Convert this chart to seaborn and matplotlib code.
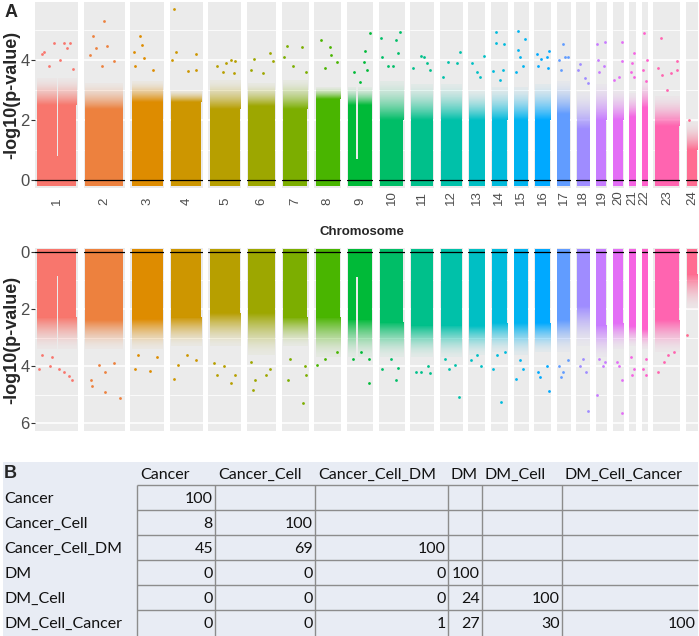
import numpy as np
import pandas as pd
import matplotlib
matplotlib.use("Agg")
import matplotlib.pyplot as plt
import seaborn as sns
from matplotlib.colors import to_rgb

# ---------------- data ----------------
chromosomes = [str(i) for i in range(1, 25)]
# relative span of each chromosome panel
chrom_span = [43, 41, 34, 33, 33, 29, 27, 27, 26, 26, 24, 23, 17, 17, 15, 17, 14, 14, 11, 11, 7, 6, 27, 12]

# upper panel: height reached by the solid SNP mass and by the speckled fringe (-log10 p)
top_dense = [2.5, 2.35, 2.6, 2.6, 2.35, 2.45, 2.35, 2.7, 2.5, 2.0, 2.0, 2.0, 2.0, 2.0, 2.0, 2.0, 2.2, 1.7, 2.0, 2.0, 2.1, 2.4, 1.8, 1.0]
top_fringe = [3.4, 3.2, 3.3, 3.0, 3.3, 3.2, 3.3, 3.1, 3.1, 3.3, 3.2, 3.2, 3.0, 3.1, 3.1, 3.2, 3.3, 2.9, 3.2, 3.0, 2.9, 3.3, 2.8, 1.9]
# upper panel: isolated top SNPs (relative position in chromosome, -log10 p)
top_hits = [
    [(.12, 4.2), (.19, 4.27), (.30, 3.8), (.43, 4.57), (.60, 4.0), (.70, 4.57), (.78, 4.4), (.85, 4.57), (.93, 3.7)],
    [(.11, 4.17), (.19, 4.8), (.28, 4.4), (.45, 3.8), (.51, 5.3), (.57, 4.47), (.77, 3.97)],
    [(.06, 4.27), (.11, 3.8), (.26, 4.8), (.33, 4.48), (.41, 4.06), (.70, 3.67)],
    [(.03, 4.0), (.08, 5.69), (.16, 4.27), (.57, 3.63), (.81, 4.2), (.83, 3.67)],
    [(.23, 3.8), (.43, 3.6), (.54, 3.9), (.69, 4.0), (.79, 3.55), (.82, 3.95)],
    [(.11, 3.67), (.23, 4.02), (.57, 3.55), (.82, 4.24), (.94, 3.97)],
    [(.06, 4.1), (.16, 4.45), (.40, 3.8), (.76, 4.42), (.94, 3.6)],
    [(.24, 4.67), (.39, 3.73), (.57, 4.42), (.63, 4.17), (.88, 3.92)],
    [(.24, 3.6), (.50, 3.27), (.68, 3.93), (.73, 4.3), (.82, 3.67), (.93, 4.9)],
    [(.07, 4.72), (.09, 4.1), (.36, 3.78), (.56, 3.8), (.69, 4.67), (.76, 4.22), (.85, 4.94)],
    [(.08, 3.72), (.44, 4.13), (.58, 4.1), (.72, 3.91), (.86, 3.67)],
    [(.11, 3.44), (.36, 3.94), (.76, 3.89), (.90, 4.26)],
    [(.20, 3.89), (.50, 3.61), (.70, 3.44), (.94, 4.14)],
    [(.10, 3.63), (.26, 4.94), (.26, 4.56), (.56, 3.33), (.76, 3.67), (.82, 4.53)],
    [(.16, 3.61), (.27, 4.97), (.27, 4.33), (.45, 4.09), (.61, 3.78), (.77, 4.69)],
    [(.12, 4.19), (.18, 3.78), (.41, 4.02), (.76, 4.11), (.86, 3.72), (.90, 4.31)],
    [(.09, 3.98), (.28, 3.67), (.44, 4.53), (.63, 4.11), (.86, 4.09)],
    [(.10, 3.67), (.21, 3.86), (.62, 3.39), (.86, 3.22)],
    [(.06, 4.52), (.12, 4.0), (.22, 3.61), (.75, 3.78), (.84, 4.61)],
    [(.09, 3.33), (.55, 3.44), (.85, 3.97), (.91, 4.58)],
    [(.18, 3.61), (.41, 3.89), (.64, 4.24), (.64, 3.44)],
    [(.26, 3.67), (.42, 4.89), (.68, 3.28), (.89, 4.0)],
    [(.12, 3.72), (.27, 4.74), (.30, 3.5), (.49, 3.0), (.65, 3.56), (.91, 3.97), (.91, 3.67)],
    [(.20, 2.0)],
]

# lower (mirrored) panel
bot_dense = [2.3, 2.4, 2.35, 2.3, 2.15, 2.15, 2.3, 2.3, 2.4, 2.5, 2.6, 2.6, 2.6, 2.5, 2.5, 2.5, 2.4, 1.9, 2.6, 2.5, 2.6, 2.7, 2.4, 0.8]
bot_fringe = [3.4, 3.4, 3.4, 3.3, 3.3, 3.6, 3.3, 3.7, 3.7, 3.7, 3.7, 3.7, 3.6, 3.5, 3.6, 3.5, 3.5, 3.3, 3.7, 3.4, 3.3, 3.4, 3.5, 2.0]
bot_hits = [
    [(.05, 4.1), (.12, 3.6), (.33, 4.0), (.39, 3.7), (.57, 4.12), (.70, 4.2), (.81, 4.35), (.89, 4.5)],
    [(.14, 4.5), (.18, 4.7), (.37, 3.95), (.53, 4.2), (.53, 4.9), (.77, 3.9), (.93, 5.13)],
    [(.11, 4.1), (.21, 3.6), (.60, 4.17), (.80, 3.7)],
    [(.09, 4.45), (.21, 3.95), (.52, 3.6), (.83, 3.8)],
    [(.13, 3.9), (.23, 4.3), (.48, 4.0), (.69, 4.6), (.82, 4.3)],
    [(.11, 3.85), (.19, 4.85), (.26, 4.5), (.68, 4.3), (.82, 4.1)],
    [(.22, 4.5), (.28, 3.75), (.82, 5.29), (.88, 4.0), (.94, 4.3)],
    [(.08, 3.95), (.39, 3.75), (.88, 3.5)],
    [(.22, 3.75), (.56, 3.5), (.87, 4.59), (.90, 3.75)],
    [(.09, 4.1), (.49, 3.75), (.69, 4.48), (.76, 4.07)],
    [(.23, 4.2), (.44, 4.2), (.79, 4.0), (.86, 4.25)],
    [(.19, 3.75), (.40, 4.1), (.69, 3.95), (.87, 5.08)],
    [(.10, 3.8), (.50, 3.6), (.80, 4.0)],
    [(.10, 4.1), (.36, 3.6), (.60, 5.25), (.86, 3.5)],
    [(.16, 4.45), (.39, 3.8), (.61, 4.1)],
    [(.18, 4.2), (.31, 4.4), (.76, 4.0), (.90, 4.87)],
    [(.09, 4.0), (.28, 4.4), (.44, 4.2), (.86, 3.8)],
    [(.26, 4.0), (.50, 3.75), (.74, 4.2), (.86, 5.57)],
    [(.06, 5.0), (.22, 3.75), (.69, 4.0), (.84, 3.85)],
    [(.39, 3.85), (.64, 4.0), (.85, 5.65), (.94, 4.5)],
    [(.18, 3.7), (.41, 4.3), (.73, 4.1)],
    [(.26, 4.1), (.68, 4.3), (.79, 3.75)],
    [(.12, 4.2), (.37, 3.85), (.55, 3.6), (.79, 3.5)],
    [(.06, 2.9)],
]

# centromere gaps visible in the SNP mass
gap_chrom = ["1", "9"]
gap_pos = [0.53, 0.38]
gap_from_top = [0.8, 0.7]
gap_from_bot = [0.85, 0.87]

# overlap table (panel B)
table_cols = ["Cancer", "Cancer_Cell", "Cancer_Cell_DM", "DM", "DM_Cell", "DM_Cell_Cancer"]
table_rows = ["Cancer", "Cancer_Cell", "Cancer_Cell_DM", "DM", "DM_Cell", "DM_Cell_Cancer"]
overlap = [
    [100],
    [8, 100],
    [45, 69, 100],
    [0, 0, 0, 100],
    [0, 0, 0, 24, 100],
    [0, 0, 1, 27, 30, 100],
]

# ---------------- style ----------------
sns.set_theme(style="darkgrid", rc={"axes.facecolor": "#EBEBEB", "grid.color": "white"})
plt.rcParams["font.family"] = ["Liberation Sans", "DejaVu Sans"]


def hue_colour(h, c=100.0, l=65.0):
    """ggplot2-style HCL hue colour."""
    hr = np.radians(h)
    U, V = c * np.cos(hr), c * np.sin(hr)
    Y = ((l + 16) / 116) ** 3
    xn, yn, zn = 0.95047, 1.0, 1.08883
    den = xn + 15 * yn + 3 * zn
    un, vn = 4 * xn / den, 9 * yn / den
    u = U / (13 * l) + un
    v = V / (13 * l) + vn
    X = 9.0 * Y * u / (4 * v)
    Z = -X / 3 - 5 * Y + 3 * Y / v
    rgb = np.array([3.240479 * X - 1.53715 * Y - 0.498535 * Z,
                    -0.969256 * X + 1.875992 * Y + 0.041556 * Z,
                    0.055648 * X - 0.204043 * Y + 1.057311 * Z])
    rgb = np.where(rgb <= 0.0031308, 12.92 * rgb, 1.055 * np.abs(rgb) ** (1 / 2.4) - 0.055)
    return tuple(np.clip(rgb, 0, 1))


n = len(chromosomes)
palette = [hue_colour(h) for h in np.linspace(15, 375, n + 1)[:-1]]

W, H = 699, 636
fig = plt.figure(figsize=(W / 100, H / 100), dpi=100)

left_px, right_px, gap_px = 35, 698, 5.6
avail = right_px - left_px - gap_px * (n - 1)
widths = np.array(chrom_span, float) / sum(chrom_span) * avail
lefts = left_px + np.concatenate([[0], np.cumsum(widths[:-1] + gap_px)])

rows = [
    dict(top=2, bottom=188, ylim=(-0.27, 5.93), base=-0.2, dense=top_dense, fringe=top_fringe,
         hits=top_hits, gap_from=gap_from_top, major=[0, 2, 4], minor=[1, 3, 5]),
    dict(top=248, bottom=431, ylim=(6.28, -0.14), base=-0.1, dense=bot_dense, fringe=bot_fringe,
         hits=bot_hits, gap_from=gap_from_bot, major=[0, 2, 4, 6], minor=[1, 3, 5]),
]

fade = (1 - np.linspace(0, 1, 60)) ** 1.6 * 0.95 + 0.04

for r, row in enumerate(rows):
    for i, chrom in enumerate(chromosomes):
        ax = fig.add_axes([lefts[i] / W, 1 - row["bottom"] / H, widths[i] / W,
                           (row["bottom"] - row["top"]) / H])
        col = palette[i]
        d, f = row["dense"][i], row["fringe"][i]
        ax.bar(0.5, d - row["base"], bottom=row["base"], width=1.0, color=col, linewidth=0, zorder=1.2)
        grad = np.zeros((60, 1, 4))
        grad[..., :3] = to_rgb(col)
        grad[:, 0, 3] = fade
        ax.imshow(grad, extent=(0, 1, d, f), origin="lower", aspect="auto",
                  interpolation="bilinear", zorder=1.3)
        if chrom in gap_chrom:
            k = gap_chrom.index(chrom)
            gw = 1.6 / widths[i]
            ax.bar(gap_pos[k], f - row["gap_from"][k], bottom=row["gap_from"][k], width=gw,
                   color="#EBEBEB", linewidth=0, zorder=1.4)
        hits = pd.DataFrame(row["hits"][i], columns=["pos", "logp"])
        sns.scatterplot(data=hits, x="pos", y="logp", color=col, s=4, linewidth=0,
                        ax=ax, zorder=4, legend=False)
        ax.axhline(0, color="black", lw=0.9, zorder=3)
        ax.set_xlim(-0.05, 1.05)
        ax.set_ylim(*row["ylim"])
        ax.set_xlabel("")
        ax.set_ylabel("")
        ax.set_xticks([])
        ax.set_yticks(row["major"])
        ax.set_yticks(row["minor"], minor=True)
        ax.grid(which="major", axis="y", color="white", lw=1.1)
        ax.grid(which="minor", axis="y", color="white", lw=0.55)
        ax.grid(axis="x", visible=False)
        for s in ax.spines.values():
            s.set_visible(False)
        if i == 0:
            ax.tick_params(axis="y", which="major", length=3, width=0.8, color="#333333",
                           labelsize=12, labelcolor="#4D4D4D", pad=1, left=True)
            ax.tick_params(axis="y", which="minor", length=0)
        else:
            ax.tick_params(axis="y", which="both", length=0, labelleft=False)
        if r == 0:
            ax.text(0.5, -(205 - 188) / 186, chrom, transform=ax.get_xaxis_transform(),
                    rotation=90, ha="center", va="bottom", fontsize=9.5, color="#4D4D4D")

fig.text(362 / W, 1 - 232 / H, "Chromosome", ha="center", va="center",
         fontsize=9.5, fontweight="bold")
fig.text(11.5 / W, 1 - 95 / H, "-log10(p-value)", rotation=90, ha="center", va="center",
         fontsize=13, fontweight="bold")
fig.text(11.5 / W, 1 - 340 / H, "-log10(p-value)", rotation=90, ha="center", va="center",
         fontsize=13, fontweight="bold")
fig.text(5 / W, 1 - 4 / H, "A", ha="left", va="top", fontsize=13, fontweight="bold")

# ---------------- panel B table ----------------
tax = fig.add_axes([0, 0, 1, 196 / H])
tax.set_xlim(0, W)
tax.set_ylim(H, 440)
tax.axis("off")
tfont = ["Lato", "DejaVu Sans"]
tax.fill_between([3, 698], 462, 636, color="#E8ECF4", linewidth=0)
col_edges = [137, 215, 315, 448, 482, 562, 698]
row_edges = [485 + 25 * k for k in range(7)]
tax.hlines(row_edges[:-1], col_edges[0], col_edges[-1], color="#8C8C8C", lw=1.0)
tax.vlines(col_edges[:-1], row_edges[0], H, color="#8C8C8C", lw=1.0)
tax.text(4, 474, "B", ha="left", va="center", fontsize=13, fontweight="bold")
for j, c in enumerate(table_cols):
    tax.text(col_edges[j] + 3, 475, c, ha="left", va="center", fontsize=11.5,
             family=tfont, color="#111111")
for i, rlab in enumerate(table_rows):
    yc = row_edges[i] + 14
    tax.text(4, yc, rlab, ha="left", va="center", fontsize=11.5, family=tfont, color="#111111")
    for j, v in enumerate(overlap[i]):
        tax.text(col_edges[j + 1] - 2, yc, str(v), ha="right", va="center", fontsize=11.5,
                 family=tfont, color="#111111")

fig.savefig("out.png", dpi=100)
